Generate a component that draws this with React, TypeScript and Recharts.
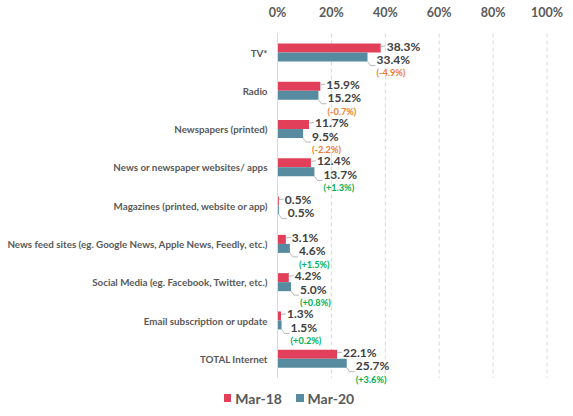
import { BarChart, Bar, XAxis, YAxis, CartesianGrid, Legend, LabelList, ReferenceLine } from 'recharts';

const categories = [
  'TV*',
  'Radio',
  'Newspapers (printed)',
  'News or newspaper websites/ apps',
  'Magazines (printed, website or app)',
  'News feed sites (eg. Google News, Apple News, Feedly, etc.)',
  'Social Media (eg. Facebook, Twitter, etc.)',
  'Email subscription or update',
  'TOTAL Internet',
];
const mar18 = [38.3, 15.9, 11.7, 12.4, 0.5, 3.1, 4.2, 1.3, 22.1];
const mar20 = [33.4, 15.2, 9.5, 13.7, 0.5, 4.6, 5.0, 1.5, 25.7];
const changes = [-4.9, -0.7, -2.2, 1.3, 0, 1.5, 0.8, 0.2, 3.6];
const xTicks = [0, 20, 40, 60, 80, 100];

const RED = '#E2405A';
const TEAL = '#568BA0';
const FONT = "Lato, 'Open Sans', sans-serif";
const LEADER = '#A6A6A6';

const data = categories.map((name, i) => ({
  name,
  mar18: mar18[i],
  mar20: mar20[i],
}));

const TopTick = ({ x, y, payload }: any) => (
  <text x={x} y={y - 13} textAnchor="middle" dominantBaseline="central"
    fontFamily={FONT} fontSize={12.5} fontWeight="bold" fill="#595959">
    {`${payload.value}%`}
  </text>
);

const CategoryTick = ({ x, y, payload }: any) => (
  <text x={x} y={y} textAnchor="end" dominantBaseline="central"
    fontFamily={FONT} fontSize={9.8} fontWeight="bold" fill="#595959">
    {payload.value}
  </text>
);

// Mar-18 value sits just right of the bar, level with its top edge
const Mar18Label = (props: any) => {
  const { x, y, width, value } = props;
  const end = x + width;
  const lx = end + 6;
  const ly = y + 2.5;
  return (
    <g>
      <line x1={end} y1={y + 3} x2={lx - 1} y2={ly} stroke={LEADER} strokeWidth={0.8} />
      <text x={lx} y={ly} dominantBaseline="central" fontFamily={FONT}
        fontSize={12} fontWeight="bold" fill="#404040">
        {`${value.toFixed(1)}%`}
      </text>
    </g>
  );
};

// Mar-20 value below-right of the bar, with the change underneath
const Mar20Label = (props: any) => {
  const { x, y, width, height, value, index } = props;
  const end = x + width;
  const bottom = y + height;
  const lx = end + 9;
  const ly = bottom - 2;
  const ch = changes[index];
  return (
    <g>
      <polyline points={`${end},${bottom} ${end + 3},${bottom + 4} ${lx - 1},${bottom + 4}`}
        fill="none" stroke={LEADER} strokeWidth={0.8} />
      <text x={lx} y={ly} dominantBaseline="central" fontFamily={FONT}
        fontSize={12} fontWeight="bold" fill="#404040">
        {`${value.toFixed(1)}%`}
      </text>
      {ch !== 0 && (
        <text x={lx} y={ly + 13.3} dominantBaseline="central" fontFamily={FONT}
          fontSize={9.2} fontWeight="bold" fill={ch < 0 ? '#ED7D31' : '#00B050'}>
          {`(${ch > 0 ? '+' : ''}${ch.toFixed(1)}%)`}
        </text>
      )}
    </g>
  );
};

const LegendContent = () => (
  <div style={{ height: 30, paddingTop: 10, paddingLeft: 5, boxSizing: 'border-box', display: 'flex', justifyContent: 'center', alignItems: 'center', fontFamily: FONT, fontSize: 14, fontWeight: 'bold', color: '#595959' }}>
    {[{ label: 'Mar-18', color: RED }, { label: 'Mar-20', color: TEAL }].map((item) => (
      <span key={item.label} style={{ display: 'flex', alignItems: 'center', margin: '0 7px' }}>
        <span style={{ width: 7.5, height: 7.5, background: item.color, display: 'inline-block', marginRight: 4 }} />
        {item.label}
      </span>
    ))}
  </div>
);

export default function App() {
  return (
    <div style={{ position: 'absolute', left: 0, top: 0, background: '#fff' }}>
      <BarChart width={573} height={416} data={data} layout="vertical"
        margin={{ top: 0, right: 26, bottom: 8, left: 0 }} barSize={9} barGap={0}>
        <CartesianGrid horizontal={false} vertical strokeDasharray="4 3" stroke="#D9D9D9" />
        <XAxis type="number" orientation="top" domain={[0, 100]} ticks={xTicks}
          height={33.5} axisLine={false} tickLine={false} tick={<TopTick />} interval={0} />
        <YAxis type="category" dataKey="name" width={277.5} axisLine={false} tickLine={false}
          tickSize={0} tickMargin={10} tick={<CategoryTick />} interval={0} />
        <ReferenceLine x={0} stroke="#D9D9D9" strokeWidth={1} />
        <Legend verticalAlign="bottom" content={<LegendContent />}
          wrapperStyle={{ left: 0, width: 573 }} />
        <Bar dataKey="mar18" name="Mar-18" fill={RED} isAnimationActive={false}>
          <LabelList dataKey="mar18" content={<Mar18Label />} />
        </Bar>
        <Bar dataKey="mar20" name="Mar-20" fill={TEAL} isAnimationActive={false}>
          <LabelList dataKey="mar20" content={<Mar20Label />} />
        </Bar>
      </BarChart>
    </div>
  );
}
